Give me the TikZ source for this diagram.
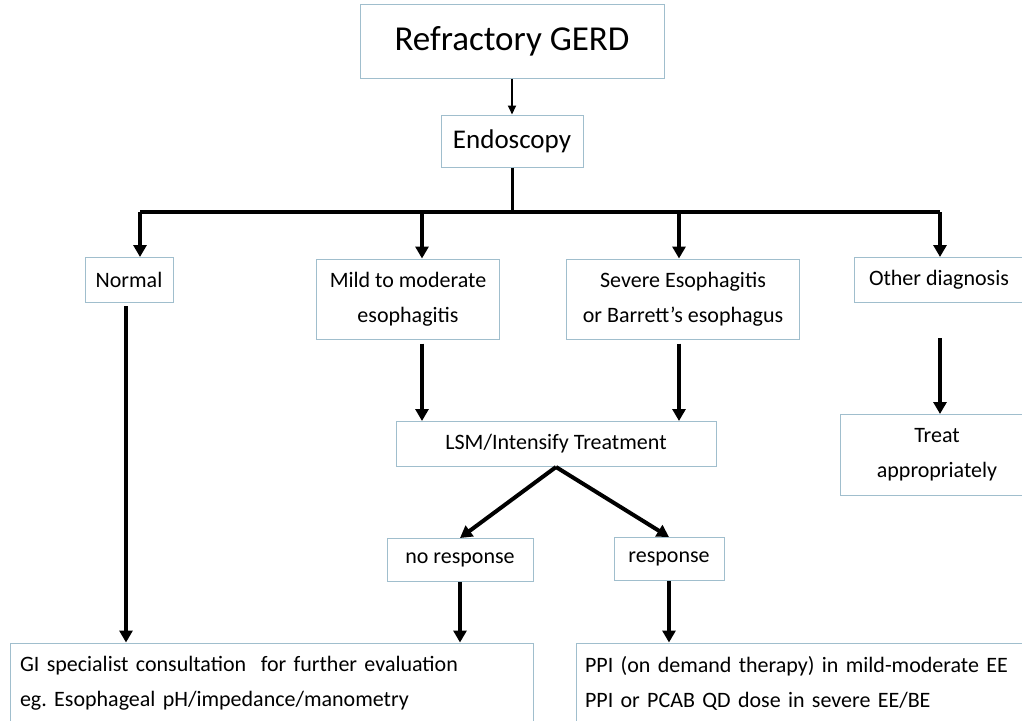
\documentclass[tikz,border=0pt]{standalone}
\usepackage{fontspec}
\setmainfont{Carlito}
\usepackage{tikz}
\usetikzlibrary{calc,arrows.meta}
\definecolor{boxline}{RGB}{160,190,205}
\tikzstyle{box}=[draw=boxline, line width=1pt, rectangle, inner sep=0pt, font=\fontsize{22}{35}\selectfont, align=center]
\tikzstyle{arr}=[-{Triangle[length=12pt,width=13pt]}, line width=3.5pt]
\tikzstyle{thinarr}=[-{Triangle[length=9pt,width=8pt]}, line width=2pt]
\frenchspacing

\begin{document}
\begin{tikzpicture}[x=1pt,y=-1pt]
\clip (0,0) rectangle (1022,720);
\fill[white] (0,0) rectangle (1022,720);
% boxes
\node[box, minimum width=304pt, minimum height=74pt, font=\fontsize{35}{40}\selectfont] (gerd) at (512,41) {Refractory GERD};
\node[box, minimum width=142pt, minimum height=52pt, font=\fontsize{27}{30}\selectfont] (endo) at (512,141) {Endoscopy};
\node[box, minimum width=88pt, minimum height=45pt] (normal) at (129,280) {Normal};
\node[box, minimum width=183pt, minimum height=80pt] (mild) at (408,299) {Mild to moderate\\esophagitis};
\node[box, minimum width=233pt, minimum height=80pt] (severe) at (683,299) {Severe Esophagitis\\or Barrett’s esophagus};
\node[box, minimum width=170pt, minimum height=45pt] (other) at (939,280) {Other diagnosis};
\node[box, minimum width=320pt, minimum height=45pt] (lsm) at (556,444) {LSM/Intensify Treatment};
\node[box, minimum width=194pt, minimum height=81pt] (treat) at (937,455) {Treat\\appropriately};
\node[box, minimum width=146pt, minimum height=43pt] (noresp) at (460,560) {no response};
\node[box, minimum width=110pt, minimum height=43pt] (resp) at (669,559) {response};
\node[box, minimum width=523pt, minimum height=80pt, align=left, text width=503pt] (gi) at (271.5,683)
  {GI specialist consultation\ \ for further evaluation\\eg. Esophageal pH/impedance/manometry};
\node[box, minimum width=470pt, minimum height=80pt, align=left, text width=452pt] (ppi) at (811,683)
  {PPI (on demand therapy) in mild-moderate EE\\PPI or PCAB QD dose in severe EE/BE};
% branch points
\coordinate (bar) at (512,212);
\coordinate (b1) at (140,212);
\coordinate (b2) at (422,212);
\coordinate (b3) at (679,212);
\coordinate (b4) at (940,212);
\coordinate (o1) at (940,338);
% connectors
\draw[thinarr] (gerd) -- (endo);
\draw[line width=3pt] (endo) -- (bar);
\draw[line width=4pt] (b1) -- (b4);
\draw[arr] (b1) -- (b1 |- normal.north);
\draw[arr] (b2) -- (b2 |- mild.north);
\draw[arr] (b3) -- (b3 |- severe.north);
\draw[arr] (b4) -- (b4 |- other.north);
\draw[arr] ($(b2 |- mild.south)+(0,4)$) -- (b2 |- lsm.north);
\draw[arr] ($(b3 |- severe.south)+(0,4)$) -- (b3 |- lsm.north);
\draw[arr] (o1) -- (o1 |- treat.north);
\draw[arr, line width=4pt] (lsm.south) -- (noresp.north);
\draw[arr, line width=4pt] (lsm.south) -- (resp.north);
\draw[arr] ($(normal.south)+(-3,3)$) -- ($(normal.south |- gi.north)+(-3,0)$);
\draw[arr] (noresp) -- (noresp |- gi.north);
\draw[arr] (resp) -- (resp |- ppi.north);
\end{tikzpicture}
\end{document}
